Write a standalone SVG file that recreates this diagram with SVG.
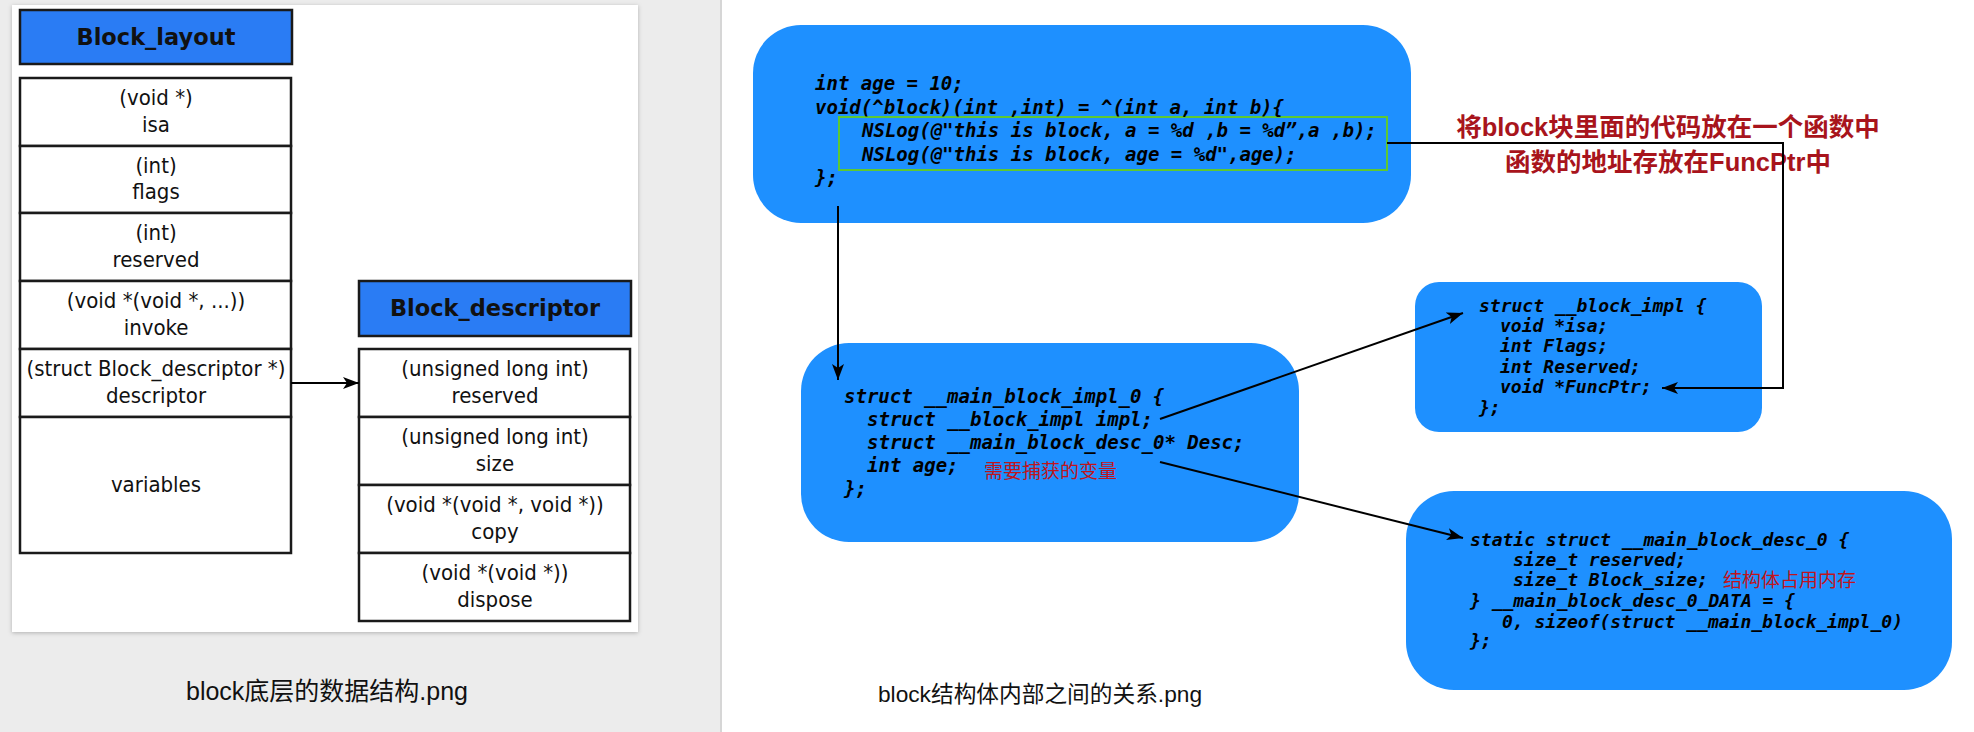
<svg xmlns="http://www.w3.org/2000/svg" width="1974" height="732" viewBox="0 0 1974 732">
<style>
.hdr{fill:#2a7cf4;stroke:#1a1a1a;stroke-width:2.5}
.cell{fill:#ffffff;stroke:#1a1a1a;stroke-width:2.5}
.ht{font-family:"DejaVu Sans",sans-serif;font-weight:bold;font-size:22.5px;fill:#111;text-anchor:middle}
.ct{font-family:"DejaVu Sans Condensed","DejaVu Sans",sans-serif;font-size:22px;fill:#111;text-anchor:middle}
.box{fill:#1e90ff}
.code{font-family:"DejaVu Sans Mono",monospace;font-weight:bold;font-style:italic;fill:#000}
.c19{font-size:19px}
.c18{font-size:18px}
.red{font-family:"Liberation Sans","Noto Sans CJK SC",sans-serif;fill:#c0141c;font-size:19px}
.title{font-family:"Liberation Sans","Noto Sans CJK SC",sans-serif;fill:#a8141c;font-size:25.5px;font-weight:bold;text-anchor:middle}
.cap{font-family:"Liberation Sans","Noto Sans CJK SC",sans-serif;fill:#111;text-anchor:middle}
.conn{fill:none;stroke:#000;stroke-width:2}
</style>
<defs>
<marker id="ah" markerUnits="userSpaceOnUse" markerWidth="16" markerHeight="12" refX="16" refY="6" orient="auto">
<path d="M0,0 L16,6 L0,12 L4,6 z" fill="#000"/>
</marker>
<filter id="sh" x="-5%" y="-5%" width="110%" height="110%">
<feDropShadow dx="0" dy="1" stdDeviation="2" flood-color="#000" flood-opacity="0.25"/>
</filter>
</defs>
<rect x="0" y="0" width="1974" height="732" fill="#ffffff"/>
<rect x="0" y="0" width="721" height="732" fill="#ececec"/>
<line x1="721" y1="0" x2="721" y2="732" stroke="#d6d6d6" stroke-width="2"/>
<rect x="12" y="5" width="626" height="627" fill="#ffffff" filter="url(#sh)"/>

<g id="block_layout">
<rect class="hdr" x="20" y="10" width="272" height="54"/>
<text class="ht" x="156" y="45">Block_layout</text>
<rect class="cell" x="20" y="78" width="271" height="68"/>
<text class="ct" x="156" y="105">(void *)</text>
<text class="ct" x="156" y="132">isa</text>
<rect class="cell" x="20" y="146" width="271" height="67"/>
<text class="ct" x="156" y="173">(int)</text>
<text class="ct" x="156" y="199">flags</text>
<rect class="cell" x="20" y="213" width="271" height="68"/>
<text class="ct" x="156" y="240">(int)</text>
<text class="ct" x="156" y="267">reserved</text>
<rect class="cell" x="20" y="281" width="271" height="68"/>
<text class="ct" x="156" y="308">(void *(void *, ...))</text>
<text class="ct" x="156" y="335">invoke</text>
<rect class="cell" x="20" y="349" width="271" height="68"/>
<text class="ct" x="156" y="376">(struct Block_descriptor *)</text>
<text class="ct" x="156" y="403">descriptor</text>
<rect class="cell" x="20" y="417" width="271" height="136"/>
<text class="ct" x="156" y="492">variables</text>
</g>

<g id="block_descriptor">
<rect class="hdr" x="359" y="281" width="272" height="55"/>
<text class="ht" x="495" y="316">Block_descriptor</text>
<rect class="cell" x="359" y="349" width="271" height="68"/>
<text class="ct" x="495" y="376">(unsigned long int)</text>
<text class="ct" x="495" y="403">reserved</text>
<rect class="cell" x="359" y="417" width="271" height="68"/>
<text class="ct" x="495" y="444">(unsigned long int)</text>
<text class="ct" x="495" y="471">size</text>
<rect class="cell" x="359" y="485" width="271" height="68"/>
<text class="ct" x="495" y="512">(void *(void *, void *))</text>
<text class="ct" x="495" y="539">copy</text>
<rect class="cell" x="359" y="553" width="271" height="68"/>
<text class="ct" x="495" y="580">(void *(void *))</text>
<text class="ct" x="495" y="607">dispose</text>
</g>

<g id="caption_left">
<text class="cap" x="327" y="700" font-size="25">block底层的数据结构.png</text>
</g>

<g id="block_code">
<rect class="box" x="753" y="25" width="658" height="198" rx="48" ry="48"/>
<rect x="839" y="117" width="548" height="53" fill="none" stroke="#5ec832" stroke-width="2"/>
<text class="code c19" x="815" y="90">int age = 10;</text>
<text class="code c19" x="815" y="114">void(^block)(int ,int) = ^(int a, int b){</text>
<text class="code c19" x="862" y="137">NSLog(@"this is block, a = %d ,b = %d”,a ,b);</text>
<text class="code c19" x="862" y="161">NSLog(@"this is block, age = %d",age);</text>
<text class="code c19" x="815" y="184">};</text>
</g>

<g id="title_note">
<text class="title" x="1668" y="136">将block块里面的代码放在一个函数中</text>
<text class="title" x="1668" y="171">函数的地址存放在FuncPtr中</text>
</g>

<g id="block_impl">
<rect class="box" x="1415" y="282" width="347" height="150" rx="24" ry="24"/>
<text class="code c18" x="1479" y="312">struct __block_impl {</text>
<text class="code c18" x="1500" y="332">void *isa;</text>
<text class="code c18" x="1500" y="352">int Flags;</text>
<text class="code c18" x="1500" y="373">int Reserved;</text>
<text class="code c18" x="1500" y="393">void *FuncPtr;</text>
<text class="code c18" x="1479" y="414">};</text>
</g>

<g id="main_block_impl_0">
<rect class="box" x="801" y="343" width="498" height="199" rx="48" ry="48"/>
<text class="code c19" x="844" y="403">struct __main_block_impl_0 {</text>
<text class="code c19" x="867" y="426">struct __block_impl impl;</text>
<text class="code c19" x="867" y="449">struct __main_block_desc_0* Desc;</text>
<text class="code c19" x="867" y="472">int age;</text>
<text class="red" x="984" y="478">需要捕获的变量</text>
<text class="code c19" x="844" y="495">};</text>
</g>

<g id="main_block_desc_0">
<rect class="box" x="1406" y="491" width="546" height="199" rx="48" ry="48"/>
<text class="code c18" x="1470" y="546">static struct __main_block_desc_0 {</text>
<text class="code c18" x="1513" y="566">size_t reserved;</text>
<text class="code c18" x="1513" y="586">size_t Block_size;</text>
<text class="red" x="1723" y="587">结构体占用内存</text>
<text class="code c18" x="1470" y="607">} __main_block_desc_0_DATA = {</text>
<text class="code c18" x="1502" y="628">0, sizeof(struct __main_block_impl_0)</text>
<text class="code c18" x="1470" y="647">};</text>
</g>

<g id="caption_right">
<text class="cap" x="1040" y="702" font-size="22.7">block结构体内部之间的关系.png</text>
</g>

<g id="connectors">
<path class="conn" d="M291,383 L359,383" stroke-width="2.5" marker-end="url(#ah)"/>
<path class="conn" d="M1387,143 L1783,143 L1783,388 L1662,388" marker-end="url(#ah)"/>
<path class="conn" d="M838,206 L838,380" marker-end="url(#ah)"/>
<path class="conn" d="M1160,419 L1463,313" marker-end="url(#ah)"/>
<path class="conn" d="M1160,462 L1463,538" marker-end="url(#ah)"/>
</g>
</svg>
